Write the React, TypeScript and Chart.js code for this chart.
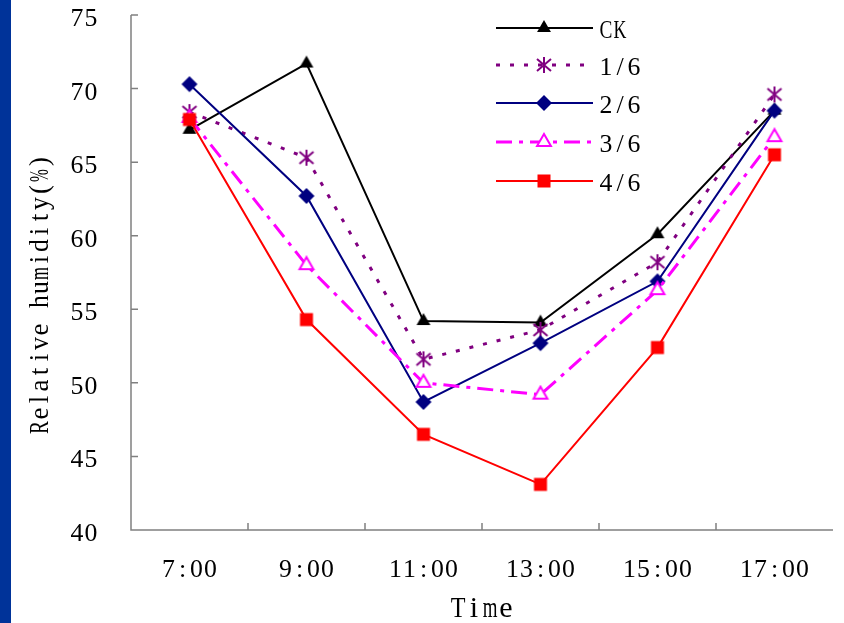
import React, { useEffect, useRef } from "react";
import { Chart, registerables } from "chart.js";
Chart.register(...registerables);

const categories = ["7:00", "9:00", "11:00", "13:00", "15:00", "17:00"];
const seriesNames = ["CK", "1/6", "2/6", "3/6", "4/6"];
const ckValues = [67.2, 71.7, 54.2, 54.1, 60.1, 68.5];
const oneSixth = [68.4, 65.3, 51.6, 53.6, 58.2, 69.6];
const twoSixth = [70.3, 62.7, 48.7, 52.7, 56.9, 68.5];
const threeSixth = [68.0, 58.0, 50.0, 49.2, 56.3, 66.7];
const fourSixth = [67.9, 54.3, 46.5, 43.1, 52.4, 65.5];
const yTicks = [40, 45, 50, 55, 60, 65, 70, 75];
const xTitle = "Time";
const yTitle = "Relative humidity(%)";

const SERIF = "'Liberation Serif', 'DejaVu Serif', serif";

function drawMono(
  ctx: CanvasRenderingContext2D,
  text: string,
  x: number,
  y: number,
  adv: number,
  size: number,
  align: "left" | "center" | "right"
) {
  const chars = Array.from(text);
  const total = chars.length * adv;
  let start = x;
  if (align === "center") start = x - total / 2;
  else if (align === "right") start = x - total;
  ctx.save();
  ctx.font = `${size}px ${SERIF}`;
  ctx.textAlign = "center";
  ctx.textBaseline = "alphabetic";
  ctx.fillStyle = "#000000";
  chars.forEach((ch, i) => {
    const cx = start + (i + 0.5) * adv;
    const w = ctx.measureText(ch).width;
    const s = w > adv * 0.92 ? (adv * 0.92) / w : 1;
    ctx.save();
    ctx.translate(cx, y);
    ctx.scale(s, 1);
    ctx.fillText(ch, 0, 0);
    ctx.restore();
  });
  ctx.restore();
}

function makeMarker(kind: string, color: string): HTMLCanvasElement {
  const c = document.createElement("canvas");
  c.width = 20;
  c.height = 20;
  const g = c.getContext("2d")!;
  const cx = 10, cy = 10;
  g.fillStyle = color;
  g.strokeStyle = color;
  if (kind === "triangle" || kind === "hollowTriangle") {
    const r = 8;
    g.beginPath();
    g.moveTo(cx, cy - r);
    g.lineTo(cx + r * 0.866, cy + r * 0.5);
    g.lineTo(cx - r * 0.866, cy + r * 0.5);
    g.closePath();
    if (kind === "triangle") {
      g.fill();
    } else {
      g.fillStyle = "#ffffff";
      g.fill();
      g.lineWidth = 2;
      g.stroke();
    }
  } else if (kind === "diamond") {
    const r = 8;
    g.beginPath();
    g.moveTo(cx, cy - r);
    g.lineTo(cx + r, cy);
    g.lineTo(cx, cy + r);
    g.lineTo(cx - r, cy);
    g.closePath();
    g.fill();
  } else if (kind === "square") {
    g.fillRect(cx - 6.5, cy - 6.5, 13, 13);
  } else if (kind === "asterisk") {
    g.lineWidth = 2;
    g.beginPath();
    g.moveTo(cx, cy - 8);
    g.lineTo(cx, cy + 8);
    g.moveTo(cx - 7, cy - 6);
    g.lineTo(cx + 7, cy + 6);
    g.moveTo(cx + 7, cy - 6);
    g.lineTo(cx - 7, cy + 6);
    g.stroke();
  }
  return c;
}

export default function App() {
  const ref = useRef<HTMLCanvasElement | null>(null);

  useEffect(() => {
    if (!ref.current) return;
    const styles = [
      { color: "#000000", dash: [] as number[], width: 2, marker: makeMarker("triangle", "#000000") },
      { color: "#800080", dash: [4, 10], width: 3, marker: makeMarker("asterisk", "#800080") },
      { color: "#000080", dash: [] as number[], width: 2, marker: makeMarker("diamond", "#000080") },
      { color: "#ff00ff", dash: [16, 7, 4, 7], width: 3, marker: makeMarker("hollowTriangle", "#ff00ff") },
      { color: "#ff0000", dash: [] as number[], width: 2, marker: makeMarker("square", "#ff0000") },
    ];
    const values = [ckValues, oneSixth, twoSixth, threeSixth, fourSixth];

    const decor = {
      id: "decor",
      beforeDatasetsDraw(chart: any) {
        const ctx = chart.ctx;
        const { left, right, top, bottom } = chart.chartArea;
        ctx.save();
        ctx.strokeStyle = "#808080";
        ctx.lineWidth = 1.5;
        ctx.beginPath();
        ctx.moveTo(left, top);
        ctx.lineTo(left, bottom);
        ctx.lineTo(right, bottom);
        const ys = chart.scales.y;
        yTicks.forEach((v) => {
          const py = ys.getPixelForValue(v);
          ctx.moveTo(left, py);
          ctx.lineTo(left + 7, py);
        });
        const xs = chart.scales.x;
        for (let i = 1; i < categories.length; i++) {
          const px = (xs.getPixelForValue(i - 1) + xs.getPixelForValue(i)) / 2;
          ctx.moveTo(px, bottom);
          ctx.lineTo(px, bottom - 7);
        }
        ctx.stroke();
        ctx.restore();
        // tick labels
        yTicks.forEach((v) => {
          const py = ys.getPixelForValue(v);
          drawMono(ctx, String(v), left - 33, py + 11, 14, 26, "right");
        });
        categories.forEach((c, i) => {
          const px = xs.getPixelForValue(i);
          drawMono(ctx, c, px, bottom + 47, 14, 26, "center");
        });
      },
      afterDraw(chart: any) {
        const ctx = chart.ctx;
        const { left, right, top, bottom } = chart.chartArea;
        drawMono(ctx, xTitle, (left + right) / 2, 617, 16, 30, "center");
        ctx.save();
        ctx.translate(48, (top + bottom) / 2 + 22);
        ctx.rotate(-Math.PI / 2);
        drawMono(ctx, yTitle, 0, 0, 14, 27, "center");
        ctx.restore();
        // legend
        const rowY = [28, 65, 103, 142, 181];
        seriesNames.forEach((name, i) => {
          const s = styles[i];
          const y = rowY[i];
          ctx.save();
          ctx.strokeStyle = s.color;
          ctx.lineWidth = s.width;
          ctx.setLineDash(s.dash);
          ctx.beginPath();
          ctx.moveTo(496, y);
          ctx.lineTo(593, y);
          ctx.stroke();
          ctx.restore();
          ctx.drawImage(s.marker, 544 - 10, y - 10);
          drawMono(ctx, name, 599, y + 10, 14, 26, "left");
        });
      },
    };

    const chart = new Chart(ref.current, {
      type: "line",
      data: {
        labels: categories,
        datasets: seriesNames.map((name, i) => ({
          label: name,
          data: values[i],
          borderColor: styles[i].color,
          backgroundColor: styles[i].color,
          borderWidth: styles[i].width,
          borderDash: styles[i].dash,
          pointStyle: styles[i].marker as any,
          pointRadius: 8,
          tension: 0,
          fill: false,
          order: 5 - i,
        })),
      },
      options: {
        responsive: false,
        animation: false,
        layout: { padding: { top: 15, right: 10, left: 0, bottom: 0 } },
        plugins: { legend: { display: false }, tooltip: { enabled: false } },
        scales: {
          x: {
            type: "category",
            offset: true,
            grid: { display: false, drawTicks: false },
            border: { display: false },
            ticks: { display: false },
            afterFit: (s: any) => { s.height = 93; },
          },
          y: {
            min: 40,
            max: 75,
            grid: { display: false, drawTicks: false },
            border: { display: false },
            ticks: { display: false, stepSize: 5 },
            afterFit: (s: any) => { s.width = 131; },
          },
        },
      },
      plugins: [decor],
    });
    return () => chart.destroy();
  }, []);

  return (
    <div style={{ position: "fixed", left: 0, top: 0, width: 844, height: 623, background: "#ffffff" }}>
      <canvas ref={ref} width={844} height={623} style={{ position: "absolute", left: 0, top: 0, width: 844, height: 623 }} />
      <div style={{ position: "absolute", left: 0, top: 0, width: 11, height: 623, background: "#003399" }} />
    </div>
  );
}
